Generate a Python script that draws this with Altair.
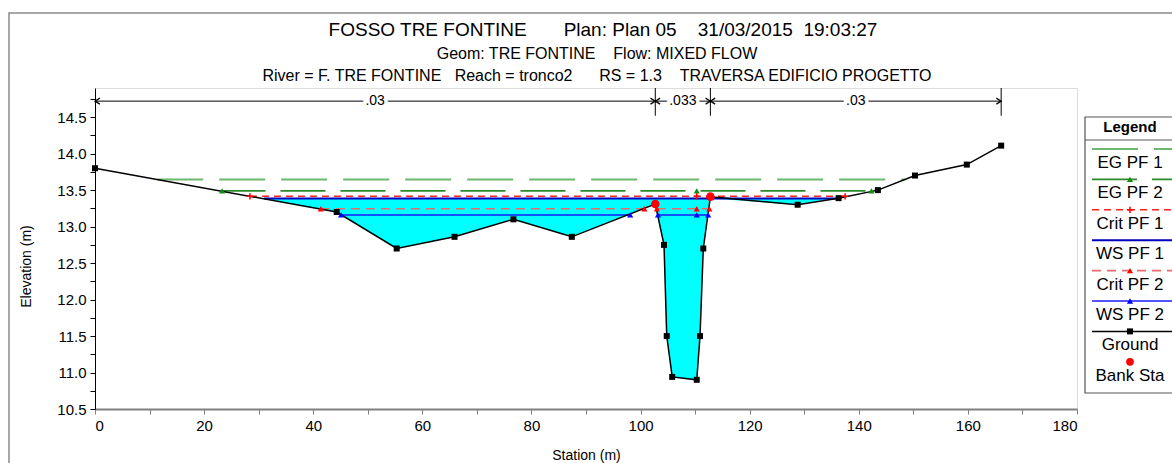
import altair as alt
import pandas as pd

# ---------------- data ----------------
ground_sta = [0.0, 44.3, 55.3, 65.9, 76.7, 87.4, 102.7, 104.3, 104.8, 105.8,
              110.3, 110.9, 111.5, 112.8, 128.8, 136.3, 143.5, 150.3, 159.8, 166.1]
ground_elev = [13.80, 13.20, 12.70, 12.86, 13.10, 12.86, 13.31, 12.75, 11.50, 10.94,
               10.90, 11.50, 12.70, 13.41, 13.30, 13.39, 13.50, 13.70, 13.85, 14.11]

bank_sta = [102.7, 112.8]
bank_elev = [13.31, 13.41]

profile_names = ["EG PF 1", "EG PF 2", "Crit PF 1", "WS PF 1", "Crit PF 2", "WS PF 2"]
profile_levels = [13.645, 13.49, 13.415, 13.385, 13.245, 13.16]
profile_segments = [
    [(11.4, 148.5)],
    [(23.0, 142.7)],
    [(28.4, 137.5)],
    [(31.0, 135.9)],
    [(41.4, 100.7), (103.0, 112.6)],
    [(45.1, 98.1), (103.2, 112.4)],
]
profile_marker_sta = [
    [],
    [23.3, 110.3, 142.3],
    [28.4, 110.3, 137.5],
    [],
    [41.4, 100.7, 103.0, 110.3, 112.6],
    [45.1, 98.1, 103.2, 110.3, 112.4],
]

# wetted extent of WS PF 1 (cyan fill)
ws1_level = 13.385
ws1_edges = [31.0, 135.9]

# Manning's n values along the top
n_values = [".03", ".033", ".03"]
n_breaks = [0.0, 102.7, 112.8, 166.1]
n_line_elev = 14.72
n_tick_range = [14.52, 14.9]

NB = "\u00a0"
title_lines = [
    "FOSSO TRE FONTINE" + NB * 7 + "Plan: Plan 05" + NB * 4 + "31/03/2015" + NB * 2 + "19:03:27",
    "Geom: TRE FONTINE" + NB * 4 + "Flow: MIXED FLOW",
    "River = F. TRE FONTINE" + NB * 3 + "Reach = tronco2" + NB * 6 + "RS = 1.3" + NB * 4 + "TRAVERSA EDIFICIO PROGETTO",
]

# ---------------- styles ----------------
FONT = "Liberation Sans"
style = {
    "EG PF 1": dict(color="#6cb86c", dash=[46, 16], width=2.0, shape=None, mcolor=None),
    "EG PF 2": dict(color="#2a8a2a", dash=[45, 15], width=1.6, shape="triangle-up", mcolor="#138a13"),
    "Crit PF 1": dict(color="#ff2020", dash=[7, 5], width=1.5, shape="M -1 0 L 1 0 M 0 -1 L 0 1", mcolor="#ff0000"),
    "WS PF 1": dict(color="#0000c0", dash=None, width=2.0, shape=None, mcolor=None),
    "Crit PF 2": dict(color="#e86a6a", dash=[9, 6], width=1.6, shape="triangle-up", mcolor="#ff0000"),
    "WS PF 2": dict(color="#1a1aff", dash=None, width=1.4, shape="triangle-up", mcolor="#0000ff"),
}

W, H = 982, 321
xs = alt.Scale(domain=[0, 180], nice=False)
ys = alt.Scale(domain=[10.5, 14.9], nice=False, zero=False)

x_axis = alt.Axis(
    values=list(range(0, 181, 10)),
    labelExpr="datum.value % 20 == 0 ? datum.label : ''",
    grid=False, tickSize=5, tickColor="#808080", domainColor="#808080", domainWidth=2,
    labelFont=FONT, labelFontSize=15, labelColor="black", labelPadding=4,
    titleFont=FONT, titleFontSize=14, titleFontWeight="normal", titlePadding=15,
)
y_axis = alt.Axis(
    values=[10.5 + 0.25 * i for i in range(18)],
    labelExpr="(round(datum.value * 100) % 50 == 0) ? format(datum.value, '.1f') : ''",
    grid=False, tickSize=5, tickColor="black", domainColor="black", domainWidth=1,
    labelFont=FONT, labelFontSize=15, labelColor="black", labelPadding=4,
    titleFont=FONT, titleFontSize=14, titleFontWeight="normal", titlePadding=23, titleY=178,
)


def X(field="sta"):
    return alt.X(f"{field}:Q", scale=xs, axis=x_axis, title="Station (m)")


def Y(field="elev"):
    return alt.Y(f"{field}:Q", scale=ys, axis=y_axis, title="Elevation (m)")


layers = []

# outer frame
one = pd.DataFrame({"k": [0]})
layers.append(alt.Chart(one).mark_rect(fill="white", fillOpacity=0, stroke="#8a8a8a", strokeWidth=1.5).encode(
    x=alt.value(-86), x2=alt.value(1110), y=alt.value(-75), y2=alt.value(430)))

# title lines (text)
title_specs = [(title_lines[0], 19, 508, -52.3), (title_lines[1], 16, 502, -28.7), (title_lines[2], 16, 502, -7.3)]
for txt, fs, cx, by in title_specs:
    layers.append(alt.Chart(one).mark_text(text=txt, font=FONT, fontSize=fs, color="black",
                                           align="center", baseline="alphabetic").encode(
        x=alt.value(cx), y=alt.value(by)))

# cyan fill for WS PF 1
fill_sta = [ws1_edges[0]] + [s for s in ground_sta if ws1_edges[0] < s < ws1_edges[1]] + [ws1_edges[1]]
fill_bot = [ws1_level] + [min(e, ws1_level) for s, e in zip(ground_sta, ground_elev)
                          if ws1_edges[0] < s < ws1_edges[1]] + [ws1_level]
fill_df = pd.DataFrame({"sta": fill_sta, "elev": fill_bot, "top": [ws1_level] * len(fill_sta)})
layers.append(alt.Chart(fill_df).mark_area(color="#00ffff", opacity=1).encode(
    x=X(), y=Y(), y2=alt.Y2("top")))

# water-surface lines
for name, lvl, segs in zip(profile_names, profile_levels, profile_segments):
    rows = []
    for k, (a, b) in enumerate(segs):
        rows += [{"sta": a, "elev": lvl, "seg": k}, {"sta": b, "elev": lvl, "seg": k}]
    st = style[name]
    kw = dict(color=st["color"], strokeWidth=st["width"])
    if st["dash"]:
        kw["strokeDash"] = st["dash"]
    layers.append(alt.Chart(pd.DataFrame(rows)).mark_line(**kw).encode(
        x=X(), y=Y(), detail="seg:N"))

# ground line
gdf = pd.DataFrame({"sta": ground_sta, "elev": ground_elev})
layers.append(alt.Chart(gdf).mark_line(color="black", strokeWidth=1.5).encode(x=X(), y=Y()))

# profile markers
for name, lvl, marks in zip(profile_names, profile_levels, profile_marker_sta):
    st = style[name]
    if not marks:
        continue
    mdf = pd.DataFrame({"sta": marks, "elev": [lvl] * len(marks)})
    if st["shape"].startswith("M"):
        mk = alt.Chart(mdf).mark_point(shape=st["shape"], filled=False, color=st["mcolor"], size=40, strokeWidth=1.5, opacity=1)
    else:
        mk = alt.Chart(mdf).mark_point(shape=st["shape"], filled=True, color=st["mcolor"], size=38, opacity=1)
    layers.append(mk.encode(x=X(), y=Y()))

# ground squares
layers.append(alt.Chart(gdf).mark_point(shape="square", filled=True, color="black", size=36, opacity=1).encode(x=X(), y=Y()))

# bank stations
bdf = pd.DataFrame({"sta": bank_sta, "elev": bank_elev})
layers.append(alt.Chart(bdf).mark_point(shape="circle", filled=True, color="#ff0000", size=75, opacity=1).encode(x=X(), y=Y()))

# Manning's n annotation
nline = pd.DataFrame({"sta": [n_breaks[0], n_breaks[-1]], "elev": [n_line_elev] * 2})
layers.append(alt.Chart(nline).mark_line(color="black", strokeWidth=1).encode(x=X(), y=Y()))
ntick = pd.DataFrame({"sta": n_breaks[1:], "elev": [n_tick_range[0]] * 3, "hi": [n_tick_range[1]] * 3})
layers.append(alt.Chart(ntick).mark_rule(color="black", strokeWidth=1).encode(x=X(), y=Y(), y2=alt.Y2("hi")))
left_heads = pd.DataFrame({"sta": n_breaks[:-1], "elev": [n_line_elev] * 3})
right_heads = pd.DataFrame({"sta": n_breaks[1:], "elev": [n_line_elev] * 3})
layers.append(alt.Chart(left_heads).mark_point(shape="M 1.6 -1 L 0 0 L 1.6 1", filled=False, color="black",
                                               size=36, strokeWidth=1.2, opacity=1).encode(x=X(), y=Y()))
layers.append(alt.Chart(right_heads).mark_point(shape="M -1.6 -1 L 0 0 L -1.6 1", filled=False, color="black",
                                                size=36, strokeWidth=1.2, opacity=1).encode(x=X(), y=Y()))
nlab = pd.DataFrame({"sta": [(a + b) / 2 for a, b in zip(n_breaks[:-1], n_breaks[1:])],
                     "elev": [n_line_elev] * 3, "txt": n_values})
layers.append(alt.Chart(nlab).mark_text(font=FONT, fontSize=14, stroke="white", strokeWidth=7, color="white",
                                        baseline="middle").encode(x=X(), y=Y(), text="txt:N"))
layers.append(alt.Chart(nlab).mark_text(font=FONT, fontSize=14, color="black",
                                        baseline="middle").encode(x=X(), y=Y(), text="txt:N"))

# ---------------- legend panel ----------------
LX0, LX1 = 990, 1110
LY0, LY1 = 29, 305
layers.append(alt.Chart(one).mark_rect(fill="white", stroke="#555555", strokeWidth=1.2).encode(
    x=alt.value(LX0), x2=alt.value(LX1), y=alt.value(LY0), y2=alt.value(LY1)))
layers.append(alt.Chart(one).mark_rule(color="#555555", strokeWidth=1).encode(
    x=alt.value(LX0), x2=alt.value(LX1), y=alt.value(52)))
layers.append(alt.Chart(one).mark_text(text="Legend", font=FONT, fontSize=15, fontWeight="bold",
                                       baseline="middle").encode(x=alt.value(1035), y=alt.value(39)))

legend_names = profile_names + ["Ground", "Bank Sta"]
for i, name in enumerate(legend_names):
    ty = 75 + 30.4 * i
    ly = ty - 14
    if name in style:
        st = style[name]
        kw = dict(color=st["color"], strokeWidth=st["width"])
        if st["dash"]:
            kw["strokeDash"] = st["dash"]
        layers.append(alt.Chart(one).mark_rule(**kw).encode(
            x=alt.value(997), x2=alt.value(1100), y=alt.value(ly)))
        if st["shape"]:
            if st["shape"].startswith("M"):
                mk = alt.Chart(one).mark_point(shape=st["shape"], filled=False, color=st["mcolor"], size=40,
                                               strokeWidth=1.5, opacity=1)
            else:
                mk = alt.Chart(one).mark_point(shape=st["shape"], filled=True, color=st["mcolor"], size=38, opacity=1)
            layers.append(mk.encode(x=alt.value(1035), y=alt.value(ly)))
    elif name == "Ground":
        layers.append(alt.Chart(one).mark_rule(color="black", strokeWidth=1.5).encode(
            x=alt.value(997), x2=alt.value(1100), y=alt.value(ly)))
        layers.append(alt.Chart(one).mark_point(shape="square", filled=True, color="black", size=36, opacity=1).encode(
            x=alt.value(1035), y=alt.value(ly)))
    else:
        layers.append(alt.Chart(one).mark_point(shape="circle", filled=True, color="#ff0000", size=60, opacity=1).encode(
            x=alt.value(1035), y=alt.value(ly)))
    layers.append(alt.Chart(one).mark_text(text=name, font=FONT, fontSize=17, baseline="middle").encode(
        x=alt.value(1035), y=alt.value(ty)))

chart = alt.layer(*layers).properties(
    width=W, height=H,
    autosize=alt.AutoSizeParams(type="none"),
    padding={"left": 95, "top": 88, "right": 95, "bottom": 54},
).configure_view(stroke=None).configure(background="white")

chart.save("out.html", embed_options={"renderer": "svg", "actions": False})
